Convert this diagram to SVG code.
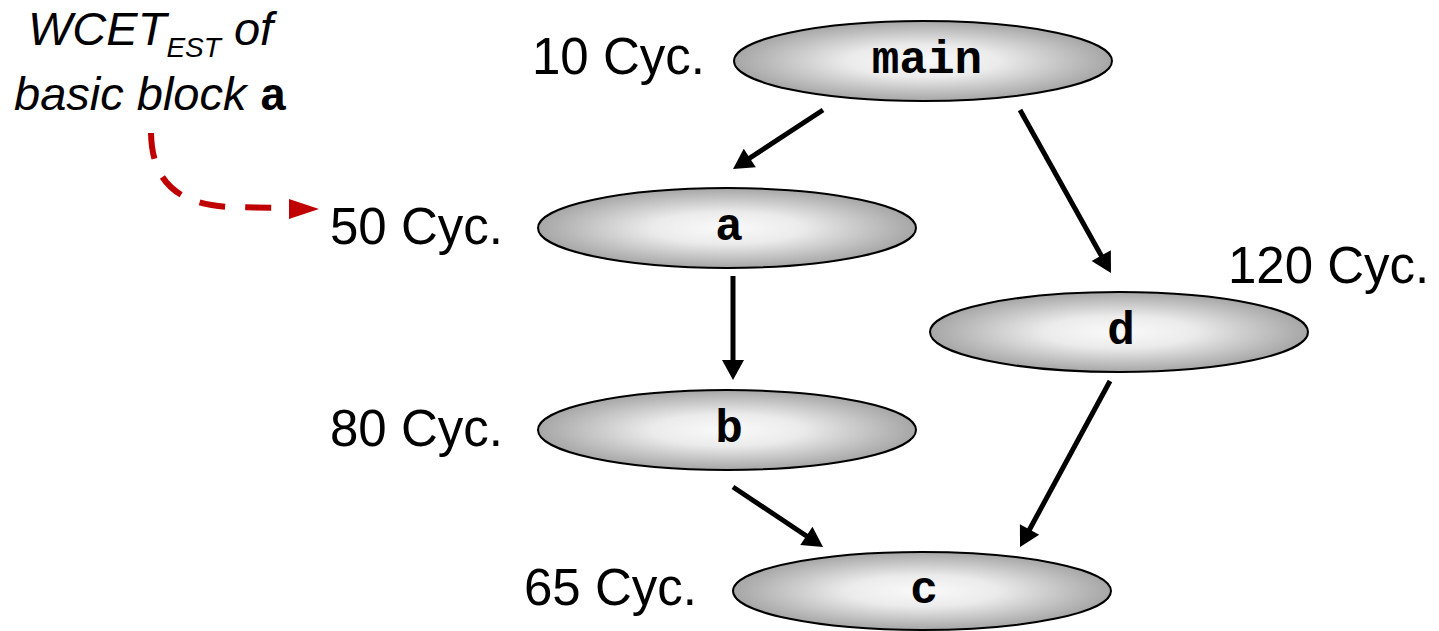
<svg xmlns="http://www.w3.org/2000/svg" width="1439" height="631" viewBox="0 0 1439 631">
  <style>
    .node { fill: url(#shade); stroke: #000; stroke-width: 2; }
    .code { font-family: "Liberation Mono", "Courier New", monospace; font-weight: bold; font-size: 46px; fill: #000; text-anchor: middle; }
    .cyc { font-family: "Liberation Sans", Arial, sans-serif; font-size: 51px; fill: #000; }
    .note { font-family: "Liberation Sans", Arial, sans-serif; font-style: italic; font-size: 47px; fill: #000; }
    .edge { stroke: #000; stroke-width: 5; fill: none; marker-end: url(#arrow); }
    .hint { stroke: #c00000; stroke-width: 6; fill: none; stroke-dasharray: 26 20; }
  </style>
  <defs>
    <radialGradient id="shade" cx="0.5" cy="0.5" r="0.5">
      <stop offset="0" stop-color="#fafafa"/>
      <stop offset="0.4" stop-color="#ebebeb"/>
      <stop offset="1" stop-color="#a6a6a6"/>
    </radialGradient>
    <!-- filled head; tip sits 10px past the end of the line -->
    <marker id="arrow" markerWidth="5" markerHeight="5" refX="2" refY="2.2" orient="auto" markerUnits="strokeWidth" overflow="visible">
      <path d="M0,0 L4,2.2 L0,4.4 Z" fill="#000"/>
    </marker>
  </defs>

  <!-- annotation: what the cycle counts mean -->
  <g id="annotation">
    <text class="note" x="28" y="45">WCET<tspan font-size="28" dy="12">EST</tspan><tspan dy="-12"> of</tspan></text>
    <text class="note" x="14" y="110">basic block <tspan class="code" style="font-style:normal;text-anchor:start" font-size="40">a</tspan></text>
    <path class="hint" d="M151,133 C152,175 170,204 230,207 L292,208"/>
    <path d="M289,199 L319,209 L289,219 Z" fill="#c00000"/>
  </g>

  <!-- edges -->
  <g id="edges">
    <line class="edge" x1="823" y1="110" x2="741.4" y2="163.5"/>
    <line class="edge" x1="1020" y1="110" x2="1106.1" y2="264.3"/>
    <line class="edge" x1="733" y1="276" x2="733" y2="370"/>
    <line class="edge" x1="733" y1="487" x2="814.7" y2="541.5"/>
    <line class="edge" x1="1110" y1="381" x2="1024.8" y2="538.2"/>
  </g>

  <g id="node-main">
    <ellipse class="node" cx="923" cy="61" rx="189" ry="40"/>
    <text class="code" x="927" y="73">main</text>
    <text class="cyc" x="532" y="74">10 Cyc.</text>
  </g>
  <g id="node-a">
    <ellipse class="node" cx="727" cy="228" rx="189" ry="40"/>
    <text class="code" x="729" y="240">a</text>
    <text class="cyc" x="330" y="244">50 Cyc.</text>
  </g>
  <g id="node-b">
    <ellipse class="node" cx="727" cy="430" rx="189" ry="40"/>
    <text class="code" x="729" y="442">b</text>
    <text class="cyc" x="330" y="446">80 Cyc.</text>
  </g>
  <g id="node-d">
    <ellipse class="node" cx="1119" cy="332" rx="189" ry="40"/>
    <text class="code" x="1121" y="344">d</text>
    <text class="cyc" x="1228" y="283">120 Cyc.</text>
  </g>
  <g id="node-c">
    <ellipse class="node" cx="922" cy="591" rx="189" ry="39"/>
    <text class="code" x="924" y="603">c</text>
    <text class="cyc" x="524" y="605">65 Cyc.</text>
  </g>
</svg>
